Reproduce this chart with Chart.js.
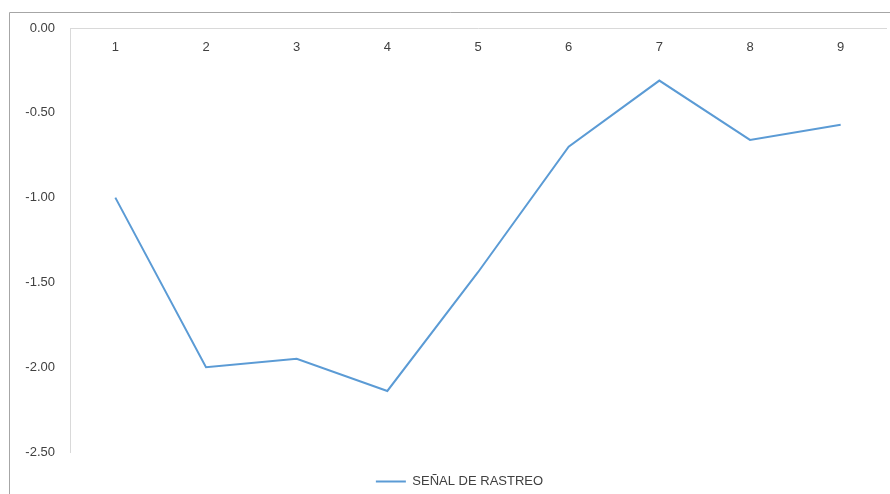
<!DOCTYPE html>
<html lang="es">
<head>
    <meta charset="UTF-8">
    <title>Señal de rastreo</title>
    <script src="https://cdn.jsdelivr.net/npm/chart.js"></script>
    <style>
        html, body { margin: 0; padding: 0; background: #fff; }
        #wrap { width: 890px; height: 494px; position: relative; }
    </style>
</head>
<body>
    <div id="wrap"><canvas id="grafico"></canvas></div>

    <script>
        // datos
        const periodos = ["1", "2", "3", "4", "5", "6", "7", "8", "9"];
        const senalRastreo = [-1.00, -2.00, -1.95, -2.14, -1.44, -0.70, -0.31, -0.66, -0.57];
        const ticksY = [0, -0.5, -1.0, -1.5, -2.0, -2.5];

        const colorLinea = "#5b9bd5";
        const colorTexto = "#404040";
        const fuente = { family: "'Liberation Sans', Arial, sans-serif", size: 13 };

        // marco exterior del area del grafico
        const marco = {
            id: "marco",
            beforeDraw(chart) {
                const ctx = chart.ctx;
                ctx.save();
                ctx.strokeStyle = "#a6a6a6";
                ctx.lineWidth = 1;
                ctx.beginPath();
                ctx.moveTo(9.5, chart.height + 2);
                ctx.lineTo(9.5, 12.5);
                ctx.lineTo(chart.width + 2, 12.5);
                ctx.stroke();
                ctx.restore();
            }
        };

        // mueve la leyenda a donde esta en el original
        const moverLeyenda = {
            id: "moverLeyenda",
            afterLayout(chart) {
                const lg = chart.legend;
                if (!lg) return;
                lg.left += 9; lg.right += 9;
                lg.top += 13; lg.bottom += 13;
            }
        };

        new Chart(document.getElementById("grafico"), {
            type: "line",
            data: {
                labels: periodos,
                datasets: [{
                    label: "SEÑAL DE RASTREO",
                    data: senalRastreo,
                    borderColor: colorLinea,
                    backgroundColor: colorLinea,
                    borderWidth: 2,
                    pointRadius: 0,
                    pointHoverRadius: 0,
                    pointStyle: "line",
                    tension: 0,
                    fill: false
                }]
            },
            options: {
                responsive: true,
                maintainAspectRatio: false,
                animation: false,
                layout: { padding: { left: 15, right: 4, top: 28, bottom: 9 } },
                plugins: {
                    tooltip: { enabled: false },
                    legend: {
                        position: "bottom",
                        labels: {
                            usePointStyle: true,
                            pointStyleWidth: 30,
                            color: colorTexto,
                            font: fuente,
                            padding: 10
                        }
                    }
                },
                scales: {
                    x: {
                        position: { y: 0 },
                        offset: true,
                        grid: { display: false, drawTicks: false },
                        border: { display: true, color: "#d9d9d9", width: 1 },
                        ticks: { color: colorTexto, font: fuente, padding: 12, maxRotation: 0 }
                    },
                    y: {
                        min: -2.5,
                        max: 0,
                        afterFit(scale) { scale.width = 55; },
                        afterBuildTicks(scale) { scale.ticks = ticksY.map(v => ({ value: v })); },
                        grid: { display: false, drawTicks: false },
                        border: { display: true, color: "#d9d9d9", width: 1 },
                        ticks: {
                            color: colorTexto,
                            font: fuente,
                            padding: 15,
                            callback: v => Number(v).toFixed(2)
                        }
                    }
                }
            },
            plugins: [marco, moverLeyenda]
        });
    </script>
</body>
</html>
